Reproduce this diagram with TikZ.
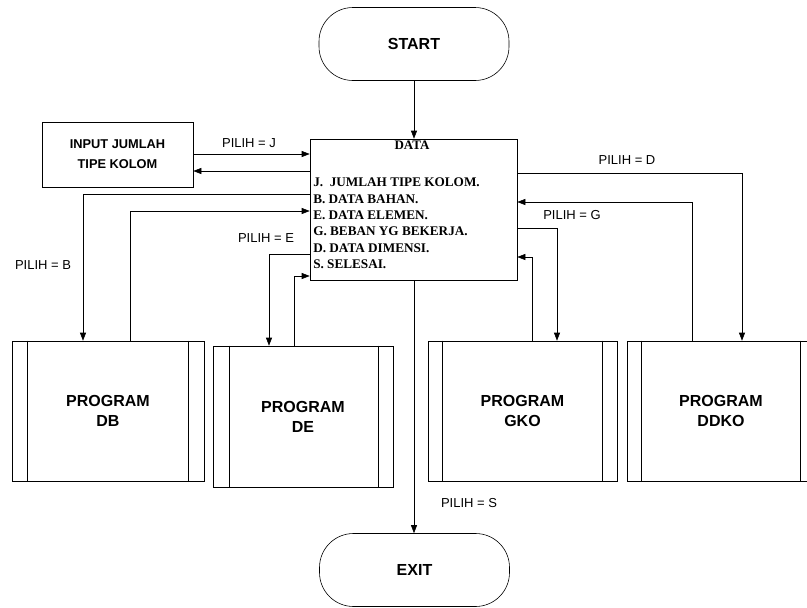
\documentclass[tikz,border=0pt]{standalone}
\usepackage{fontspec}
\setmainfont{Liberation Serif}
\newfontfamily\arialf{Liberation Sans}
\usetikzlibrary{arrows.meta,calc}
\begin{document}
\begin{tikzpicture}[x=1pt,y=-1pt,
  line width=0.6pt,
  arr/.style={-{Triangle[length=8pt,width=6pt]}},
  term/.style={draw, rounded corners=34pt, minimum width=190pt, minimum height=73pt,
    font=\arialf\bfseries\fontsize{16}{18}\selectfont},
  proc/.style={draw, align=center, minimum height=140pt,
    font=\arialf\bfseries\fontsize{16}{20}\selectfont},
  lbl/.style={font=\arialf\fontsize{13}{15}\selectfont, inner sep=0pt},
  item/.style={font=\bfseries\fontsize{13.2}{15}\selectfont, inner sep=0pt, anchor=west},
]
\useasboundingbox (0,0) rectangle (807,608);

% nodes
\node[term] (start) at (414,44) {START};
\node[term] (exit) at (414.5,570) {EXIT};
\node[draw, minimum width=207pt, minimum height=141pt] (data) at (413.5,209.5) {};
\node[draw, minimum width=151pt, minimum height=65pt, align=center,
  font=\arialf\bfseries\fontsize{12.8}{20}\selectfont] (input) at (117.5,154.5) {INPUT JUMLAH\\TIPE KOLOM};

\node[proc, minimum width=192pt] (db) at (108,411) {PROGRAM\\DB};
\node[proc, minimum width=180pt, minimum height=141pt] (de) at (303,416.5) {PROGRAM\\DE};
\node[proc, minimum width=189pt] (gko) at (522.5,411) {PROGRAM\\GKO};
\node[proc, minimum width=188pt, text width=160pt] (ddko) at (721,411) {PROGRAM\\DDKO};

% inner lines of predefined processes
\draw ([xshift=16pt]db.north west) -- ([xshift=16pt]db.south west);
\draw ([xshift=-16pt]db.north east) -- ([xshift=-16pt]db.south east);
\draw ([xshift=17pt]de.north west) -- ([xshift=17pt]de.south west);
\draw ([xshift=-15pt]de.north east) -- ([xshift=-15pt]de.south east);
\draw ([xshift=15pt]gko.north west) -- ([xshift=15pt]gko.south west);
\draw ([xshift=-15pt]gko.north east) -- ([xshift=-15pt]gko.south east);
\draw ([xshift=15pt]ddko.north west) -- ([xshift=15pt]ddko.south west);
\draw ([xshift=-15pt]ddko.north east) -- ([xshift=-15pt]ddko.south east);

% DATA texts
\node[inner sep=0pt, font=\bfseries\fontsize{13}{15}\selectfont] (dtitle) at (412,145) {DATA};
\node[item] (iJ) at (313,182) {J.\ \ JUMLAH TIPE KOLOM.};
\node[item] (iB) at (313,199) {B. DATA BAHAN.};
\node[item] (iE) at (313,215) {E. DATA ELEMEN.};
\node[item] (iG) at (313,231) {G. BEBAN YG BEKERJA.};
\node[item] (iD) at (313,248) {D. DATA DIMENSI.};
\node[item] (iS) at (313,264) {S. SELESAI.};

% level coordinates
\coordinate (yJ) at (0,154);
\coordinate (yJr) at (0,171);
\coordinate (yB) at (0,194);
\coordinate (yBr) at (0,211);
\coordinate (yE) at (0,254);
\coordinate (yEr) at (0,276);
\coordinate (yD) at (0,173);
\coordinate (yDr) at (0,202);
\coordinate (yG) at (0,228);
\coordinate (yGr) at (0,257);
\coordinate (xB) at (83,0);
\coordinate (xBr) at (130,0);
\coordinate (xE) at (269,0);
\coordinate (xEr) at (294,0);
\coordinate (xG) at (557,0);
\coordinate (xGr) at (532,0);
\coordinate (xD) at (742,0);
\coordinate (xDr) at (692,0);

% connectors
\draw[arr] (start.south) -- (start.south |- data.north);
\draw[arr] (data.south -| start.south) -- (exit.north -| start.south);

\draw[arr] (input.east |- yJ) -- (data.west |- yJ);
\draw[arr] (data.west |- yJr) -- (input.east |- yJr);

\draw[arr] (data.west |- yB) -- (xB |- yB) -- (xB |- db.north);
\draw[arr] (xBr |- db.north) -- (xBr |- yBr) -- (data.west |- yBr);

\draw[arr] (data.west |- yE) -- (xE |- yE) -- (xE |- de.north);
\draw[arr] (xEr |- de.north) -- (xEr |- yEr) -- (data.west |- yEr);

\draw[arr] (data.east |- yD) -- (xD |- yD) -- (xD |- ddko.north);
\draw[arr] (xDr |- ddko.north) -- (xDr |- yDr) -- (data.east |- yDr);

\draw[arr] (data.east |- yG) -- (xG |- yG) -- (xG |- gko.north);
\draw[arr] (xGr |- gko.north) -- (xGr |- yGr) -- (data.east |- yGr);

% labels
\node[lbl] (lJ) at (249,143) {PILIH = J};
\node[lbl] (lB) at (43,265) {PILIH = B};
\node[lbl] (lE) at (266,238) {PILIH = E};
\node[lbl] (lD) at (627,160) {PILIH = D};
\node[lbl] (lG) at (572,215) {PILIH = G};
\node[lbl] (lS) at (469,503) {PILIH = S};
\end{tikzpicture}
\end{document}
